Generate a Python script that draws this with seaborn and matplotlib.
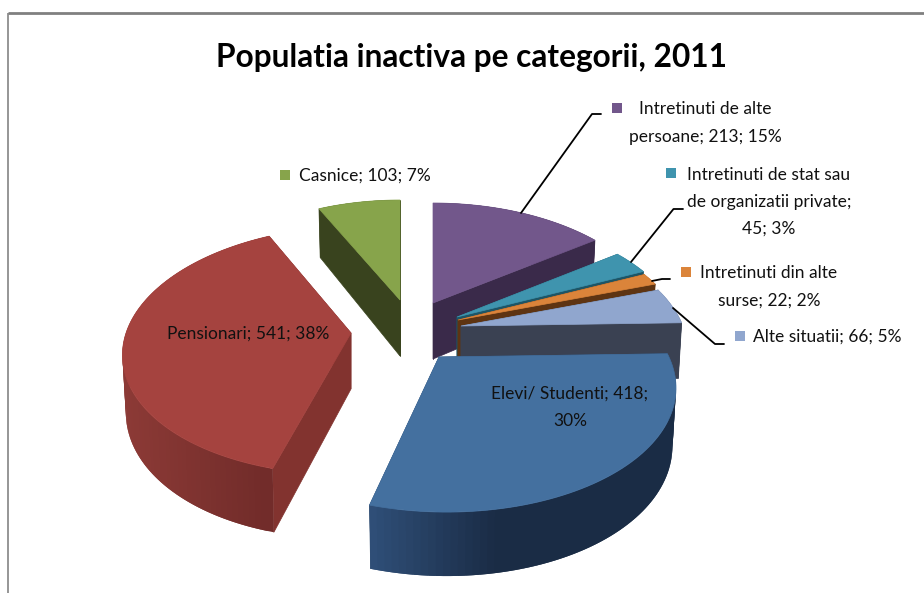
import numpy as np
import matplotlib
matplotlib.use("Agg")
import matplotlib.pyplot as plt
import seaborn as sns

# ---- data ----
categories = ["Intretinuti de alte persoane", "Intretinuti de stat sau de organizatii private",
              "Intretinuti din alte surse", "Alte situatii", "Elevi/ Studenti", "Pensionari", "Casnice"]
values = [213, 45, 22, 66, 418, 541, 103]
percents = [15, 3, 2, 5, 30, 38, 7]
title = "Populatia inactiva pe categorii, 2011"

# ---- styles ----
top_colors = ["#72578B", "#3F94AE", "#DB843A", "#90A6CE", "#44709F", "#A5433F", "#87A44B"]
inner_colors = ["#3A2A4A", "#1D5566", "#5E3412", "#3A4152", "#2C4A6E", "#82332F", "#39431E"]
rim_light = ["#3A2A4A", "#1D5566", "#5E3412", "#3A4152", "#30507A", "#8C3A36", "#39431E"]
rim_dark = ["#3A2A4A", "#1D5566", "#5E3412", "#3A4152", "#1A2C45", "#722C2A", "#39431E"]
tips = [(433, 303), (457, 317), (458, 320), (461, 326), (439, 357), (351, 333), (400, 300)]
radii = [224, 222, 222, 222, 230, 225, 218]
skews = [0, 0, 0, 0, 0.05, -0.07, 0]
persp = [0.216, 0.216, 0.216, 0.216, 0.216, 0.14, 0.216]
K = 121.6
draw_order = [0, 1, 2, 3, 6, 5, 4]

sns.set_theme(style="white")
plt.rcParams["font.family"] = ["Lato", "DejaVu Sans"]

fig = plt.figure(figsize=(9.24, 5.93), dpi=100)
ax = fig.add_axes([0, 0, 1, 1])
ax.set_xlim(0, 924)
ax.set_ylim(593, 0)
ax.axis("off")


def project(theta, rho, i, down=False):
    X, Y = rho * np.sin(theta), -rho * np.cos(theta)
    w = 1 - Y * persp[i]
    x, y = radii[i] * X / w, K * Y / w
    x = x + skews[i] * y
    if down:
        x = x * 0.985
        y = y + 56 + 8 * Y
    return tips[i][0] + x, tips[i][1] + y


def quad(xs, ys, color, z, lw=0.5):
    ax.fill(xs, ys, facecolor=color, edgecolor=color if lw else "none", linewidth=lw, zorder=z)


edges = np.concatenate([[0], np.cumsum(values)]) / np.sum(values) * 2 * np.pi
for rank, i in enumerate(draw_order):
    a0, a1 = edges[i], edges[i + 1]
    th = np.linspace(a0, a1, max(int((a1 - a0) * 40), 4))
    z = 2 + rank
    # flat cut faces
    for a in (a0, a1):
        tx0, ty0 = project(a, 0, i)
        tx1, ty1 = project(a, 1, i)
        bx0, by0 = project(a, 0, i, True)
        bx1, by1 = project(a, 1, i, True)
        quad([tx0, tx1, bx1, bx0], [ty0, ty1, by1, by0], inner_colors[i], z)
    # curved rim, shaded strip by strip; each strip overlaps the next to hide seams
    c0 = np.array(matplotlib.colors.to_rgb(rim_light[i]))
    c1 = np.array(matplotlib.colors.to_rgb(rim_dark[i]))
    for k in range(len(th) - 1):
        a, b = th[k], th[min(k + 2, len(th) - 1)]
        tx0, ty0 = project(a, 1, i)
        tx1, ty1 = project(b, 1, i)
        bx0, by0 = project(a, 1, i, True)
        bx1, by1 = project(b, 1, i, True)
        if i == 4:
            s = np.clip((tx0 - 369) / 130, 0, 1)
        elif i == 5:
            s = np.clip((tx0 - 125) / 140, 0, 1)
        else:
            s = 0.5
        quad([tx0, tx1, bx1, bx0], [ty0, ty1, by1, by0], tuple(c0 + (c1 - c0) * s), z, lw=0)
    # top face
    px, py = project(th, 1, i)
    cx, cy = project(a0, 0, i)
    quad(np.r_[cx, px], np.r_[cy, py], top_colors[i], z + 0.5)

# chart frame
ax.plot([8, 8], [13, 593], color="#8E8E8E", lw=1.3, zorder=1, solid_capstyle="butt")
ax.plot([8, 924], [13, 13], color="#808080", lw=2.0, zorder=1, solid_capstyle="butt")

ax.text(472, 58, title, ha="center", va="center", fontsize=22.8, fontweight="bold",
        color="black", zorder=20)

# leader lines
leaders = [([601, 592, 521], [114, 114, 213]),
           ([683, 673.5, 631], [209, 209, 262]),
           ([670, 662, 652], [279, 279, 281]),
           ([724, 715, 673], [344, 344, 308])]
for lx, ly in leaders:
    ax.plot(lx, ly, color="black", lw=1.3, zorder=15)

# labels
labels = [f"{c}; {v}; {p}%" for c, v, p in zip(categories, values, percents)]
layout = [
    (labels[0].replace("alte persoane", "alte\npersoane"), 705, 123, "center"),
    (labels[1].replace("sau de", "sau\nde").replace("private; ", "private;\n"), 769, 202, "center"),
    (labels[2].replace("alte surse", "alte\nsurse"), 769, 287, "center"),
    (labels[3], 753, 337, "left"),
    (labels[4].replace("418; ", "418;\n"), 570, 407, "center"),
    (labels[5], 167, 334, "left"),
    (labels[6], 299, 176, "left"),
]
for txt, x, y, ha in layout:
    ax.text(x, y, txt, ha=ha, va="center", fontsize=12.5, color="#111111", linespacing=1.85,
            multialignment="center", zorder=20)

# legend keys beside the labels
keys = [(616.5, 108, 0), (671, 173, 1), (685.5, 272, 2), (739.5, 335.5, 3), (284.5, 174.5, 6)]
for kx, ky, i in keys:
    ax.scatter([kx], [ky], marker="s", s=62, color=top_colors[i], linewidths=0, zorder=20)

fig.savefig("out.png", dpi=100, facecolor="white")
